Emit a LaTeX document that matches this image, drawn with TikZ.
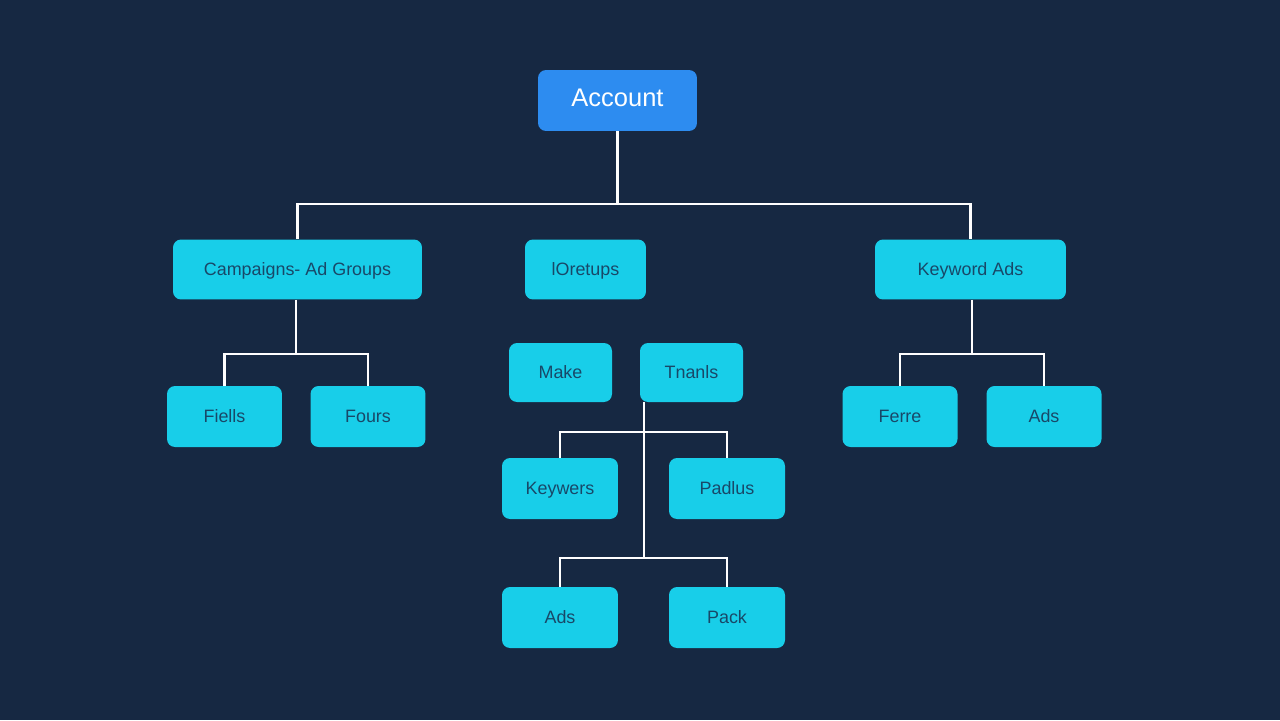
\documentclass[tikz,border=0pt]{standalone}
\usepackage{fontspec}
\setmainfont{Liberation Sans}
\definecolor{bg}{RGB}{22,40,66}
\definecolor{cyanbox}{RGB}{24,206,233}
\definecolor{bluebox}{RGB}{45,140,240}
\definecolor{boxtext}{RGB}{24,72,104}
\tikzset{
  box/.style={fill=cyanbox, rounded corners=0.16cm, inner sep=0pt,
    minimum height=1.2cm, text=boxtext, text height=0.72em, text depth=0pt,
    font=\fontsize{10.2}{12}\selectfont},
  topbox/.style={fill=bluebox, rounded corners=0.16cm, inner sep=0pt,
    minimum height=1.22cm, minimum width=3.18cm, text=white, text height=0.72em, text depth=0pt,
    font=\fontsize{14.5}{17}\selectfont},
  conn/.style={draw=white, line width=1.4pt}
}
\begin{document}
\begin{tikzpicture}[x=0.02cm, y=-0.02cm]
\useasboundingbox (0,0) rectangle (1280,720);
\fill[bg] (0,0) rectangle (1280,720);

\node[topbox] (acc) at (617.5,100.5) {Account};

\node[box, minimum width=4.98cm] (camp) at (297.5,269.5) {Campaigns- Ad Groups};
\node[box, minimum width=2.42cm] (ioret) at (585.5,269.5) {lOretups};
\node[box, minimum width=3.82cm] (kwads) at (970.5,269.5) {Keyword Ads};

\node[box, minimum width=2.06cm, minimum height=1.18cm] (make) at (560.5,372.5) {Make};
\node[box, minimum width=2.06cm, minimum height=1.18cm] (tnan) at (691.5,372.5) {Tnanls};

\node[box, minimum width=2.3cm, minimum height=1.22cm] (fiells) at (224.5,416.5) {Fiells};
\node[box, minimum width=2.3cm, minimum height=1.22cm] (fours) at (368,416.5) {Fours};
\node[box, minimum width=2.3cm, minimum height=1.22cm] (ferre) at (900,416.5) {Ferre};
\node[box, minimum width=2.3cm, minimum height=1.22cm] (adsr) at (1044,416.5) {Ads};

\node[box, minimum width=2.32cm, minimum height=1.22cm] (keyw) at (560,488.5) {Keywers};
\node[box, minimum width=2.32cm, minimum height=1.22cm] (padl) at (727,488.5) {Padlus};
\node[box, minimum width=2.32cm, minimum height=1.22cm] (adsb) at (560,617.5) {Ads};
\node[box, minimum width=2.32cm, minimum height=1.22cm] (pack) at (727,617.5) {Pack};

\coordinate (j1) at (617.5,204);
\coordinate (j2) at (296,354);
\coordinate (j3) at (972,354);
\coordinate (tj1) at (644,432);
\coordinate (tj2) at (644,558);

\draw[conn] (acc.south) -- (j1);
\draw[conn] (camp.north) |- (j1) -| (kwads.north);

\draw[conn] (camp.south -| j2) -- (j2);
\draw[conn] (fiells.north) |- (j2) -| (fours.north);

\draw[conn] (kwads.south -| j3) -- (j3);
\draw[conn] (ferre.north) |- (j3) -| (adsr.north);

\draw[conn] (tnan.south -| tj1) -- (tj2);
\draw[conn] (keyw.north) |- (tj1) -| (padl.north);
\draw[conn] (adsb.north) |- (tj2) -| (pack.north);
\end{tikzpicture}
\end{document}
